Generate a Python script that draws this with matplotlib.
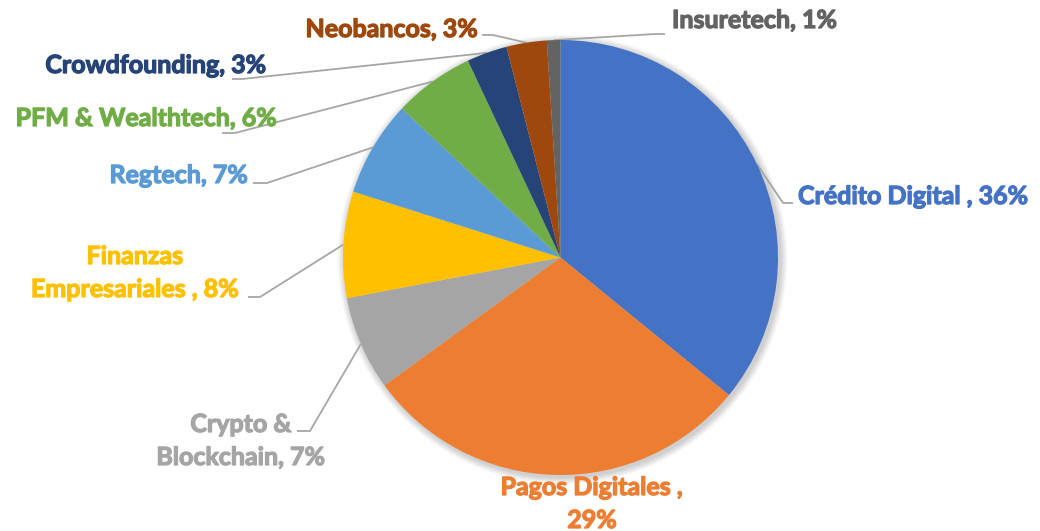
import numpy as np
import matplotlib
matplotlib.use("Agg")
import matplotlib.pyplot as plt
from matplotlib.patches import Circle
import matplotlib.patheffects as pe

# ---- data ----
categories = ["Crédito Digital ", "Pagos Digitales ", "Crypto & Blockchain", "Finanzas Empresariales ",
              "Regtech", "PFM & Wealthtech", "Crowdfounding", "Neobancos", "Insuretech"]
values = [35.9, 29.1, 7.0, 7.9, 7.1, 6.0, 3.0, 3.0, 1.0]
colors = ["#4472C4", "#ED7D31", "#A5A5A5", "#FFC000", "#5B9BD5",
          "#70AD47", "#264478", "#9E480E", "#636363"]
# label line breaks (text content)
label_lines = [
    ["Crédito Digital , {p}"],
    ["Pagos Digitales ,", "{p}"],
    ["Crypto &", "Blockchain, {p}"],
    ["Finanzas", "Empresariales , {p}"],
    ["Regtech, {p}"],
    ["PFM & Wealthtech, {p}"],
    ["Crowdfounding, {p}"],
    ["Neobancos, {p}"],
    ["Insuretech, {p}"],
]

# ---- layout (pixel coordinates, y downward) ----
W, H = 1040, 531
center = (560.5, 257.5)
radius = 217.5
# text anchor: (x, first baseline), ha ; leader: elbow, end (None = no leader)
layout = [
    dict(xy=(798, 204), ha="left",   elbow=(783, 203), end=(793, 203)),
    dict(xy=(592, 495), ha="center", elbow=None, end=None),
    dict(xy=(241, 432), ha="center", elbow=(310, 431), end=(297, 431)),
    dict(xy=(135, 264), ha="center", elbow=(260, 297), end=(248, 297)),
    dict(xy=(248, 183), ha="right",  elbow=(267, 183), end=(253, 183)),
    dict(xy=(277, 126), ha="right",  elbow=(235, 133), end=(222, 133)),
    dict(xy=(267, 73),  ha="right",  elbow=(242, 79),  end=(232, 79)),
    dict(xy=(478, 37),  ha="right",  elbow=(493, 35),  end=(482, 35)),
    dict(xy=(672, 28),  ha="left",   elbow=(655, 34),  end=(665, 34)),
]
line_gap = 33

plt.rcParams["font.family"] = ["Lato", "DejaVu Sans"]

fig = plt.figure(figsize=(W / 100, H / 100), dpi=100)
ax = fig.add_axes([0, 0, 1, 1])

# soft shadow
for i in range(8):
    ax.add_patch(Circle((center[0] + 2, center[1] + 2), radius + 1 + i * 0.9,
                        color="black", alpha=0.022, lw=0, zorder=0))

wedges, _ = ax.pie(values, colors=colors, startangle=-90, counterclock=True,
                   center=center, radius=radius, frame=True,
                   wedgeprops=dict(linewidth=0))
for w in wedges:
    w.set_zorder(2)

ax.set_xlim(0, W)
ax.set_ylim(H, 0)
ax.set_aspect("equal")
ax.axis("off")

total = sum(values)
for w, v, lines, lay, col in zip(wedges, values, label_lines, layout, colors):
    pct = f"{v / total * 100:.0f}%"
    for i, ln in enumerate(lines):
        ax.text(lay["xy"][0], lay["xy"][1] + i * line_gap, ln.format(p=pct),
                ha=lay["ha"], va="baseline", color=col, fontsize=18,
                fontweight="bold", zorder=5,
                path_effects=[pe.withStroke(linewidth=0.9, foreground=col)])
    if lay["elbow"] is not None:
        mid = np.deg2rad((w.theta1 + w.theta2) / 2)
        sx = center[0] + radius * np.cos(mid)
        sy = center[1] + radius * np.sin(mid)
        ax.plot([sx, lay["elbow"][0], lay["end"][0]],
                [sy, lay["elbow"][1], lay["end"][1]],
                color="#A6A6A6", lw=1.3, zorder=1, solid_capstyle="butt")

fig.savefig("out.png", dpi=100)
